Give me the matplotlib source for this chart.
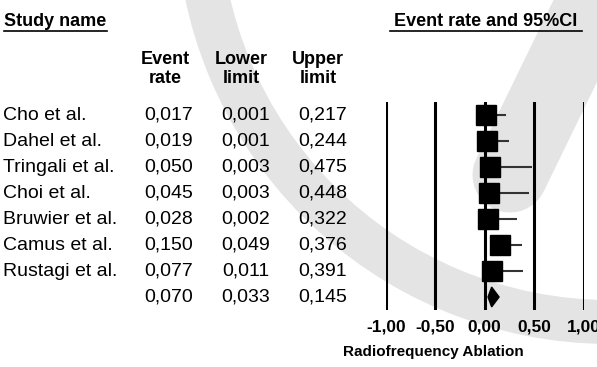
import numpy as np
import matplotlib
matplotlib.use("Agg")
import matplotlib.pyplot as plt
from matplotlib.lines import Line2D
from matplotlib.patches import Wedge
from matplotlib import transforms

plt.rcParams['font.family'] = ['Liberation Sans', 'DejaVu Sans']

# data
studies = ["Cho et al.", "Dahel et al.", "Tringali et al.", "Choi et al.",
           "Bruwier et al.", "Camus et al.", "Rustagi et al."]
event_rate = [0.017, 0.019, 0.050, 0.045, 0.028, 0.150, 0.077]
lower = [0.001, 0.001, 0.003, 0.003, 0.002, 0.049, 0.011]
upper = [0.217, 0.244, 0.475, 0.448, 0.322, 0.376, 0.391]
pooled = (0.070, 0.033, 0.145)
ticks = [-1.0, -0.5, 0.0, 0.5, 1.0]
tick_labels = ["-1,00", "-0,50", "0,00", "0,50", "1,00"]

W, H = 597, 367
def fx(px): return px / W
def fy(py): return 1 - py / H

def fmt(v):
    return f"{v:.3f}".replace(".", ",")

fig = plt.figure(figsize=(W / 100, H / 100), dpi=100)

# faint grey watermark behind everything (pixel coords)
bg = fig.add_axes([0, 0, 1, 1], zorder=-1)
bg.set_xlim(0, W)
bg.set_ylim(H, 0)
bg.axis('off')
wm = '#e4e4e4'
bg.add_patch(Wedge((610, -90), 434, 0, 360, width=44, color=wm, lw=0))
bg.plot([605, 510], [-20, 175], color=wm, lw=54, solid_capstyle='round')

# forest panel
ax = fig.add_axes([fx(386), fy(310), (583.5 - 386) / W, 208 / H])
ax.patch.set_visible(False)
ax.set_xlim(-1, 1)
ax.set_ylim(7.5, -0.5)
for s in ax.spines.values():
    s.set_visible(False)
ax.set_yticks([])
ax.set_xticks(ticks, tick_labels, fontsize=12.5, fontweight='bold')
ax.tick_params(axis='x', length=0, pad=7)
for t in ticks:
    ax.axvline(t, color='black', lw=2.2, zorder=1)

rows = np.arange(len(studies))
ax.hlines(rows, lower, upper, color='#333333', lw=1.5, zorder=2)
ax.plot(event_rate, rows, 's', color='black', ms=15, zorder=3, clip_on=False)

r = len(studies)
est, lo, hi = pooled
ax.fill([lo, est, hi, est], [r, r - 0.38, r, r + 0.38], color='black', zorder=3)

# table text, rows tied to the forest axes
tr = transforms.blended_transform_factory(fig.transFigure, ax.transData)
for i, name in enumerate(studies):
    fig.text(fx(3), i, name, transform=tr, fontsize=14, va='center', ha='left')
cols = [(fx(169), event_rate + [pooled[0]]),
        (fx(246), lower + [pooled[1]]),
        (fx(323), upper + [pooled[2]])]
for x, vals in cols:
    for i, v in enumerate(vals):
        fig.text(x, i, fmt(v), transform=tr, fontsize=14, va='center', ha='center')

# headers
for x, lab in [(165, "Event\nrate"), (241, "Lower\nlimit"), (318, "Upper\nlimit")]:
    fig.text(fx(x), fy(69), lab, fontsize=13, fontweight='bold', ha='center',
             va='center', linespacing=1.2)

fig.text(fx(4), fy(21), "Study name", fontsize=13, fontweight='bold',
         ha='left', va='center')
fig.add_artist(Line2D([fx(4), fx(107)], [fy(31), fy(31)], color='black', lw=1.2))
fig.text(fx(486), fy(21), "Event rate and 95%CI", fontsize=13, fontweight='bold',
         ha='center', va='center')
fig.add_artist(Line2D([fx(390), fx(582)], [fy(31), fy(31)], color='black', lw=1.2))

fig.text(fx(343), fy(352), "Radiofrequency Ablation", fontsize=11,
         fontweight='bold', ha='left', va='center')

fig.savefig("out.png", dpi=100)
